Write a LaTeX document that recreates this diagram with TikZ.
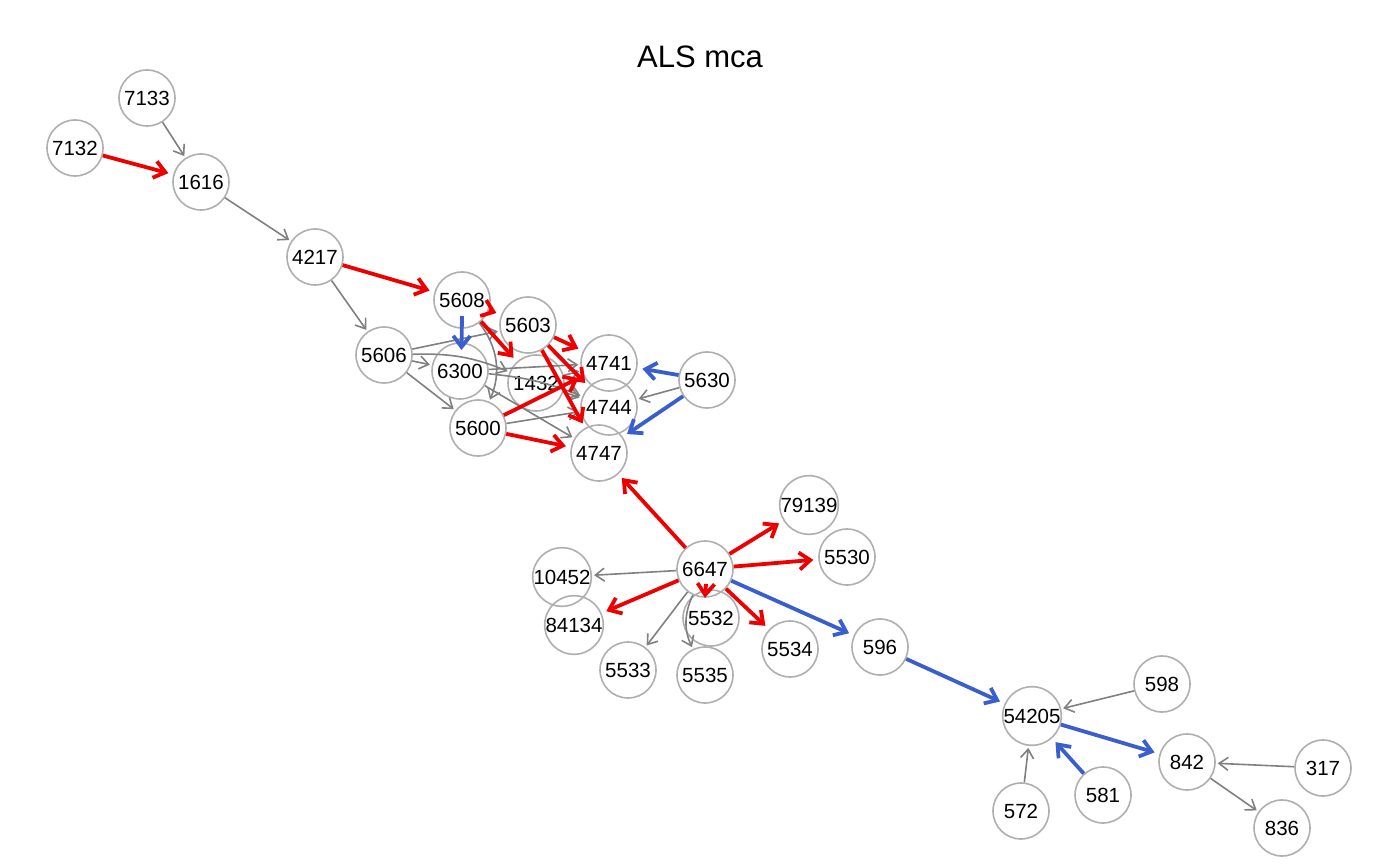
\documentclass[tikz,border=0pt]{standalone}
\usepackage{fontspec}
\setmainfont{Liberation Sans}
\usetikzlibrary{arrows.meta,calc}
\definecolor{ered}{RGB}{238,0,0}
\definecolor{eblue}{RGB}{58,95,205}
\definecolor{egray}{RGB}{128,128,128}
\definecolor{vframe}{RGB}{175,175,175}
\begin{document}
\begin{tikzpicture}[x=1pt,y=1pt,
  vtx/.style={circle,draw=vframe,line width=1.6pt,minimum size=56pt,inner sep=0pt,
    font=\fontsize{20.5}{24}\selectfont},
  ge/.style={draw=egray,line width=1.6pt,-{Straight Barb[length=9pt,width=13pt]},shorten >=2pt},
  re/.style={draw=ered,line width=3.8pt,-{Straight Barb[length=11pt,width=17pt]},shorten >=5pt},
  be/.style={draw=eblue,line width=3.8pt,-{Straight Barb[length=11pt,width=17pt]},shorten >=5pt}]
\useasboundingbox (0,0) rectangle (1400,-866);
\node[font=\fontsize{31}{36}\selectfont] (title) at (700,-57) {ALS mca};
% vertices
\node[vtx] (v7133) at (147,-98) {7133};
\node[vtx] (v7132) at (75,-148) {7132};
\node[vtx] (v1616) at (201,-182) {1616};
\node[vtx] (v4217) at (315,-257) {4217};
\node[vtx] (v5608) at (462,-300) {5608};
\node[vtx] (v5603) at (528,-325) {5603};
\node[vtx] (v5606) at (384,-355) {5606};
\node[vtx] (v6300) at (460,-371) {6300};
\node[vtx] (v1432) at (536,-383) {1432};
\node[vtx] (v4741) at (609,-363) {4741};
\node[vtx] (v4744) at (609,-407) {4744};
\node[vtx] (v4747) at (599,-453) {4747};
\node[vtx] (v5600) at (478,-428) {5600};
\node[vtx] (v5630) at (707,-380) {5630};
\node[vtx] (v6647) at (705,-569) {6647};
\node[vtx] (v79139) at (809,-505) {79139};
\node[vtx] (v5530) at (847,-557) {5530};
\node[vtx] (v10452) at (562,-577) {10452};
\node[vtx] (v84134) at (574,-625) {84134};
\node[vtx] (v5532) at (711,-618) {5532};
\node[vtx] (v5533) at (628,-670) {5533};
\node[vtx] (v5535) at (705,-675) {5535};
\node[vtx] (v5534) at (790,-649) {5534};
\node[vtx] (v596) at (880,-647) {596};
\node[vtx] (v54205) at (1032,-716) {54205};
\node[vtx] (v598) at (1162,-684) {598};
\node[vtx] (v842) at (1187,-762) {842};
\node[vtx] (v317) at (1323,-768) {317};
\node[vtx] (v572) at (1021,-811) {572};
\node[vtx] (v581) at (1103,-795) {581};
\node[vtx] (v836) at (1282,-828) {836};
% gray edges
\draw[ge] (v7133) -- (v1616);
\draw[ge] (v1616) -- (v4217);
\draw[ge] (v4217) -- (v5606);
\draw[ge] (v5606) -- (v5603);
\draw[ge] (v5606) -- (v6300);
\draw[ge] (v5606) to[bend left=12] (v1432);
\draw[ge] (v5606) -- (v5600);
\draw[ge] (v5608) to[bend left=30] (v5600);
\draw[ge] (v6300) -- (v4741);
\draw[ge] (v6300) to[bend left=8] (v4744);
\draw[ge] (v6300) -- (v4747);
\draw[ge] (v1432) -- (v4741);
\draw[ge] (v1432) -- (v4744);
\draw[ge] (v5600) -- (v4744);
\draw[ge] (v5630) -- (v4744);
\draw[ge] (v6647) -- (v10452);
\draw[ge] (v6647) -- (v5533);
\draw[ge] (v6647) to[bend right=25] (v5535);
\draw[ge] (v598) -- (v54205);
\draw[ge] (v572) -- (v54205);
\draw[ge] (v317) -- (v842);
\draw[ge] (v842) -- (v836);
% red edges
\draw[re] (v7132) -- (v1616);
\draw[re] (v4217) -- (v5608);
\draw[re] (v5608) -- (v5603);
\draw[re] (v5608) -- (v1432);
\draw[re] (v5603) -- (v4741);
\draw[re] (v5603) -- (v4744);
\draw[re] (v5603) -- (v4747);
\draw[re] (v5600) -- (v4741);
\draw[re] (v5600) -- (v4747);
\draw[re] (v6647) -- (v4747);
\draw[re] (v6647) -- (v79139);
\draw[re] (v6647) -- (v5530);
\draw[re] (v6647) -- (v84134);
\draw[re,shorten >=0pt] ($(v6647.center)+(1,-15)$) -- (v6647.south);
\draw[re] (v6647) -- (v5534);
% blue edges
\draw[be,shorten >=0pt] ($(v5608.center)+(0,-16)$) -- ($(v6300.center)+(1.5,21)$);
\draw[be] (v5630) -- (v4741);
\draw[be] (v5630) -- (v4747);
\draw[be] (v6647) -- (v596);
\draw[be] (v596) -- (v54205);
\draw[be] (v54205) -- (v842);
\draw[be] (v581) -- (v54205);
\end{tikzpicture}
\end{document}
